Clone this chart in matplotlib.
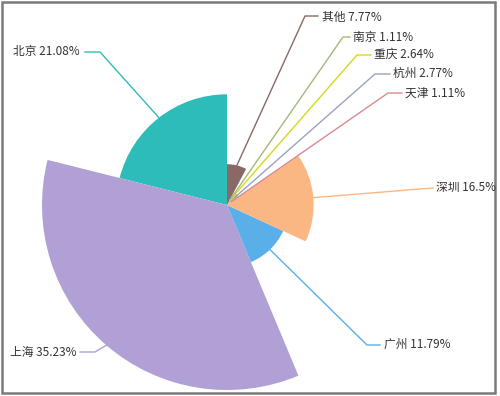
import matplotlib
matplotlib.use("Agg")
import matplotlib.pyplot as plt
from matplotlib.patches import Wedge, Rectangle
import numpy as np

plt.rcParams['font.family'] = ['Noto Sans CJK SC', 'DejaVu Sans']

cities = ['北京', '上海', '广州', '深圳', '天津', '杭州', '重庆', '南京', '其他']
values = [21.08, 35.23, 11.79, 16.5, 1.11, 2.77, 2.64, 1.11, 7.77]
colors = ['#2ebcb8', '#b0a0d6', '#5aafe8', '#fbb783', '#d98a8e',
          '#9aa3bd', '#d6d81a', '#a3b87a', '#8a6866']

W, H = 500, 396
fig = plt.figure(figsize=(W / 100, H / 100), dpi=100)
ax = fig.add_axes([0, 0, 1, 1])
ax.set_xlim(0, W)
ax.set_ylim(0, H)
ax.axis('off')

# frame
ax.add_patch(Rectangle((2, 3.5), 492.5, 391, fill=False, edgecolor='#7a7a7a', lw=1.8))

cx, cy = 227, H - 205
rmax = 185
total = sum(values)
vmax = max(values)

# label layout (pixel coords, y down): bend point, end point, text x, text y, align
layout = {
    '北京': ((100, 52), (85, 52), 80, 52, 'right'),
    '上海': ((95, 352), (80, 352), 76, 352, 'right'),
    '广州': ((367, 345), (380, 345), 384, 344, 'left'),
    '深圳': ((420, 189), (433, 188), 436, 188, 'left'),
    '天津': ((388, 93), (402, 93), 405, 93, 'left'),
    '杭州': ((375, 74), (390, 74), 393, 73, 'left'),
    '重庆': ((357, 55), (371, 55), 374, 54, 'left'),
    '南京': ((343, 37), (350, 37), 353, 37, 'left'),
    '其他': ((305, 16), (318, 16), 322, 17, 'left'),
}

start = 90.0
for name, v, c in zip(cities, values, colors):
    span = v / total * 360.0
    r = v / vmax * rmax
    ax.add_patch(Wedge((cx, cy), r, start, start + span, facecolor=c, edgecolor='none'))
    mid = np.deg2rad(start + span / 2)
    sx, sy = cx + r * np.cos(mid), cy + r * np.sin(mid)
    (bx, by), (ex, ey), tx, ty, ha = layout[name]
    ax.plot([sx, bx, ex], [sy, H - by, H - ey], color=c, lw=1.0, solid_joinstyle='round')
    ax.text(tx, H - ty, f'{name} {v:g}%', ha=ha, va='center', fontsize=8.5, color='#333333')
    start += span

fig.savefig('out.png', dpi=100)
